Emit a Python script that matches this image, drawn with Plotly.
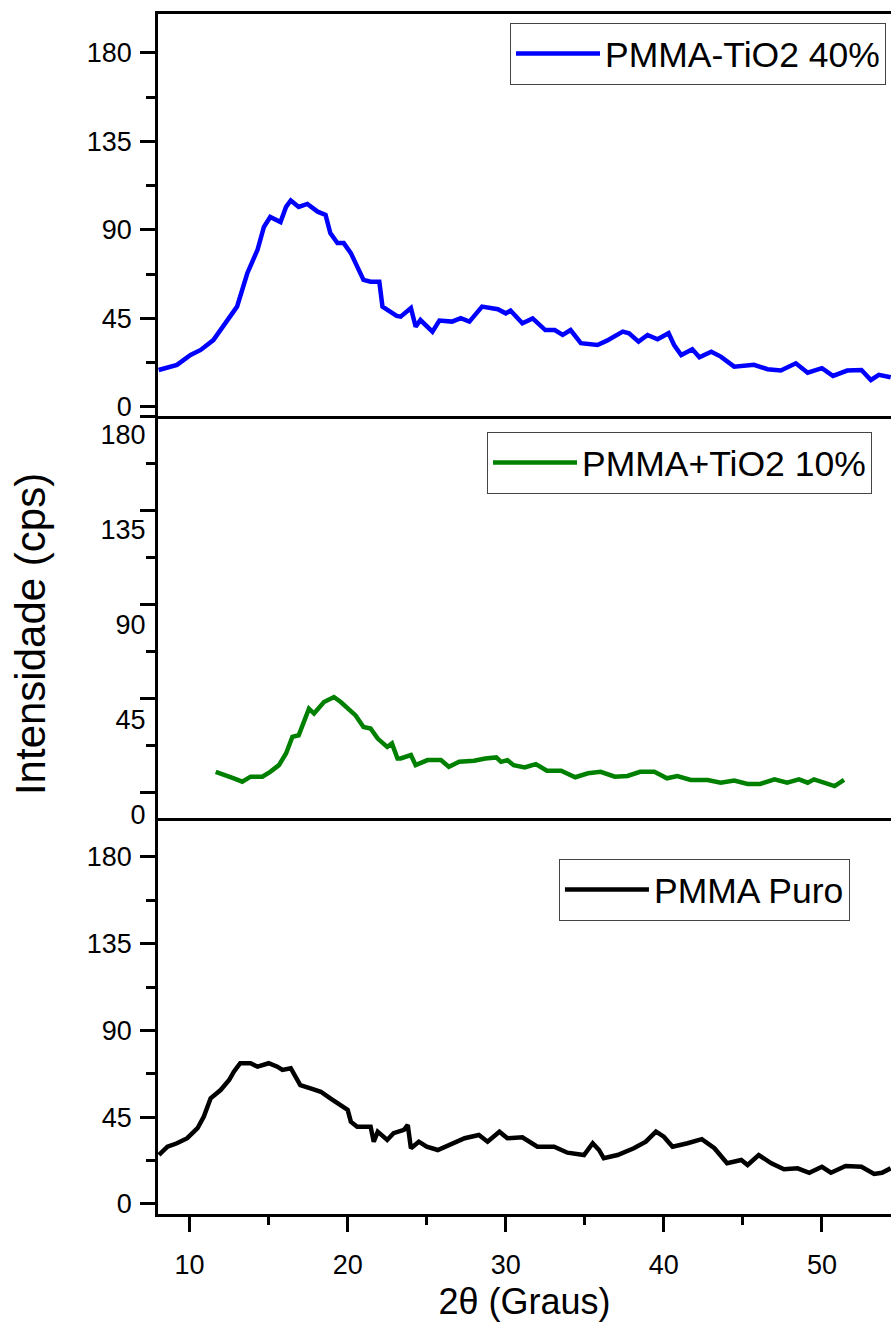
import plotly.graph_objects as go

# ---------------- data ----------------
x_tio2_40 = [8.04, 9.2, 10.06, 10.7, 11.5, 12.4, 13.0, 13.65, 14.3, 14.7, 15.1, 15.75, 16.1, 16.4, 16.9,
             17.45, 18.1, 18.6, 18.9, 19.35, 19.75, 20.2, 20.6, 21.0, 21.45, 22.0, 22.2, 22.7, 23.1, 23.35,
             24.0, 24.3, 24.6, 25.36, 25.8, 26.6, 27.15, 27.7, 28.5, 29.5, 30.0, 30.3, 31.05, 31.7, 32.5,
             33.1, 33.6, 34.1, 34.75, 35.8, 36.4, 37.4, 37.8, 38.4, 38.97, 39.6, 40.3, 40.65, 41.1, 41.8,
             42.25, 43.0, 43.6, 44.45, 45.7, 46.56, 47.4, 48.35, 49.1, 50.0, 50.7, 51.6, 52.5, 53.1, 53.6, 54.35]
y_tio2_40 = [18.8, 21.4, 26.4, 29.0, 34.0, 44.0, 51.0, 68.0, 80.0, 91.5, 96.6, 94.0, 101.7, 105.0, 101.7,
             103.2, 99.3, 97.6, 88.4, 83.3, 83.3, 78.2, 71.3, 64.6, 63.7, 63.7, 51.0, 48.4, 46.3, 45.9,
             50.3, 40.8, 44.2, 38.3, 43.9, 43.4, 45.2, 43.4, 51.0, 49.7, 47.6, 49.0, 42.5, 45.0, 39.1,
             39.1, 36.6, 39.1, 32.4, 31.5, 33.7, 38.3, 37.5, 33.2, 36.6, 34.4, 37.5, 31.5, 26.4, 29.3,
             25.3, 28.1, 25.6, 20.5, 21.4, 19.2, 18.5, 22.2, 17.4, 19.7, 15.8, 18.5, 18.8, 13.7, 16.3, 15.1]

x_tio2_10 = [11.65, 12.28, 12.8, 13.33, 13.86, 14.6, 15.1, 15.65, 16.1, 16.5, 16.9, 17.55, 17.87, 18.5,
             19.13, 19.56, 20.1, 20.5, 21.0, 21.45, 21.9, 22.5, 22.8, 23.15, 23.35, 24.0, 24.3, 25.05,
             25.9, 26.4, 27.05, 28.0, 28.7, 29.4, 29.7, 30.1, 30.5, 31.2, 31.9, 32.6, 33.5, 34.4, 35.2,
             36.0, 36.9, 37.7, 38.5, 39.4, 40.2, 40.85, 41.7, 42.77, 43.6, 44.45, 45.3, 46.1, 47.0, 47.8,
             48.55, 49.1, 49.5, 50.15, 50.8, 51.4]
y_tio2_10 = [10.1, 8.6, 7.0, 5.4, 7.8, 7.8, 10.1, 13.3, 18.9, 26.8, 27.6, 40.3, 38.0, 43.5,
             45.9, 43.5, 39.5, 37.1, 31.6, 30.8, 26.0, 22.0, 23.7, 16.5, 16.5, 18.1, 13.3, 15.7,
             15.7, 12.5, 14.9, 15.4, 16.5, 17.0, 14.9, 15.7, 13.3, 12.2, 13.8, 10.6, 10.6, 7.5, 9.4,
             10.1, 7.8, 8.1, 10.1, 10.1, 7.0, 8.1, 6.2, 6.2, 4.9, 5.9, 4.3, 4.3, 6.5, 4.9,
             6.5, 4.9, 6.5, 4.9, 3.3, 6.2]

x_puro = [8.06, 8.6, 9.2, 9.85, 10.5, 10.9, 11.33, 11.96, 12.5, 12.8, 13.2, 13.86, 14.3, 15.0, 15.55,
          15.87, 16.4, 17.0, 17.65, 18.3, 18.9, 19.56, 20.0, 20.2, 20.6, 21.45, 21.65, 21.9, 22.5, 22.9,
          23.56, 23.8, 24.0, 24.5, 25.0, 25.7, 26.5, 27.4, 28.3, 28.85, 29.6, 30.1, 31.05, 32.0, 33.06,
          33.9, 34.95, 35.5, 35.9, 36.2, 37.07, 38.1, 38.86, 39.5, 40.0, 40.55, 41.5, 42.4, 43.2, 44.0,
          44.9, 45.3, 46.0, 46.8, 47.6, 48.46, 49.2, 50.0, 50.57, 51.5, 52.5, 53.3, 53.8, 54.35]
y_puro = [25.4, 29.7, 31.5, 34.1, 39.3, 45.3, 54.8, 59.1, 64.3, 68.6, 73.0, 73.0, 71.2, 73.0, 71.2,
          69.5, 70.4, 61.7, 60.0, 58.2, 54.8, 51.3, 48.8, 42.7, 40.1, 40.1, 32.3, 37.5, 33.2, 36.7,
          38.4, 41.0, 28.9, 32.3, 29.7, 28.0, 30.6, 34.1, 35.8, 32.3, 37.5, 34.1, 34.6, 29.7, 29.7,
          26.6, 25.4, 31.5, 28.0, 23.7, 25.4, 28.9, 32.3, 37.5, 34.9, 29.7, 31.5, 33.6, 28.9, 21.1,
          22.8, 20.2, 25.4, 21.1, 18.0, 18.5, 16.2, 19.3, 16.2, 19.7, 19.3, 15.6, 16.2, 18.5]

y_tickvals = [0, 45, 90, 135, 180]
y_ticktext = ["0", "45", "90", "135", "180"]
x_tickvals = [10, 20, 30, 40, 50]

names = ["PMMA-TiO2 40%", "PMMA+TiO2 10%", "PMMA Puro"]
colors = ["#0000FF", "#008000", "#000000"]

FONT = "Liberation Sans"

fig = go.Figure()
fig.add_trace(go.Scatter(x=x_tio2_40, y=y_tio2_40, mode="lines", name=names[0],
                         line=dict(color=colors[0], width=4.5), xaxis="x3", yaxis="y3", legend="legend"))
fig.add_trace(go.Scatter(x=x_tio2_10, y=y_tio2_10, mode="lines", name=names[1],
                         line=dict(color=colors[1], width=4.5), xaxis="x2", yaxis="y2", legend="legend2"))
fig.add_trace(go.Scatter(x=x_puro, y=y_puro, mode="lines", name=names[2],
                         line=dict(color=colors[2], width=4.5), xaxis="x", yaxis="y", legend="legend3"))
# invisible helper trace for the label-only axis of the middle panel
fig.add_trace(go.Scatter(x=[None], y=[None], xaxis="x2", yaxis="y4", showlegend=False, hoverinfo="skip"))

XR = [8.0, 54.37]
axis_line = dict(showline=True, linecolor="black", linewidth=2.5, showgrid=False, zeroline=False)
tickfont = dict(family=FONT, size=27, color="black")

yticks = dict(tickmode="array", tickvals=y_tickvals, ticktext=y_ticktext, ticks="outside",
              ticklen=15, tickwidth=2.5, tickcolor="black",
              minor=dict(ticks="outside", ticklen=9, tickwidth=2.5, tickcolor="black",
                         tickvals=[22.5, 67.5, 112.5, 157.5]))

leg_common = dict(font=dict(family=FONT, size=35.5, color="black"), bgcolor="white",
                  bordercolor="#444444", borderwidth=1, xanchor="right", yanchor="top",
                  itemwidth=84, tracegroupgap=0)

fig.update_layout(
    width=891, height=1330,
    margin=dict(l=158, r=0, t=14, b=116),
    plot_bgcolor="white", paper_bgcolor="white",
    font=dict(family=FONT, color="black"),
    xaxis=dict(**axis_line, range=XR, domain=[0, 1], anchor="y", mirror=False,
               tickmode="array", tickvals=x_tickvals, ticks="outside", ticklen=15, tickwidth=2.5,
               tickcolor="black", tickfont=tickfont, ticklabelstandoff=10,
               minor=dict(ticks="outside", ticklen=8, tickwidth=2.5, tickcolor="black",
                          tickvals=[15, 25, 35, 45]),
               title=dict(text="2θ (Graus)", font=dict(family=FONT, size=36, color="black"), standoff=10)),
    yaxis=dict(**axis_line, range=[-5.2, 200.2], domain=[0, 0.33], anchor="x", **yticks,
               tickfont=tickfont, ticklabelstandoff=3),
    xaxis2=dict(**axis_line, range=XR, domain=[0, 1], anchor="y2", mirror=False, matches="x",
                ticks="", showticklabels=False),
    yaxis2=dict(**axis_line, range=[-12.0, 180.4], domain=[0.33, 0.665], anchor="x2",
                **yticks, showticklabels=False),
    yaxis4=dict(overlaying="y2", anchor="x2", side="left", range=[-1.4, 189], showline=False,
                showgrid=False, zeroline=False, tickmode="array", tickvals=y_tickvals, ticktext=y_ticktext,
                ticks="outside", ticklen=6, tickcolor="rgba(0,0,0,0)", tickfont=tickfont),
    xaxis3=dict(**axis_line, range=XR, domain=[0, 1], anchor="y3", mirror=True, matches="x",
                ticks="", showticklabels=False),
    yaxis3=dict(**axis_line, range=[-4.6, 199.8], domain=[0.665, 1], anchor="x3", **yticks,
                tickfont=tickfont, ticklabelstandoff=3),
    legend=dict(**leg_common, x=0.9932, y=0.9925),
    legend2=dict(**leg_common, x=0.9741, y=0.6517),
    legend3=dict(**leg_common, x=0.944, y=0.2958),
    annotations=[dict(text="Intensidade (cps)", textangle=-90, xref="paper", yref="paper",
                      x=-0.1746, y=0.4833, xanchor="center", yanchor="middle", showarrow=False,
                      font=dict(family=FONT, size=42, color="black"))],
    showlegend=True,
)

fig.write_html("out.html")
